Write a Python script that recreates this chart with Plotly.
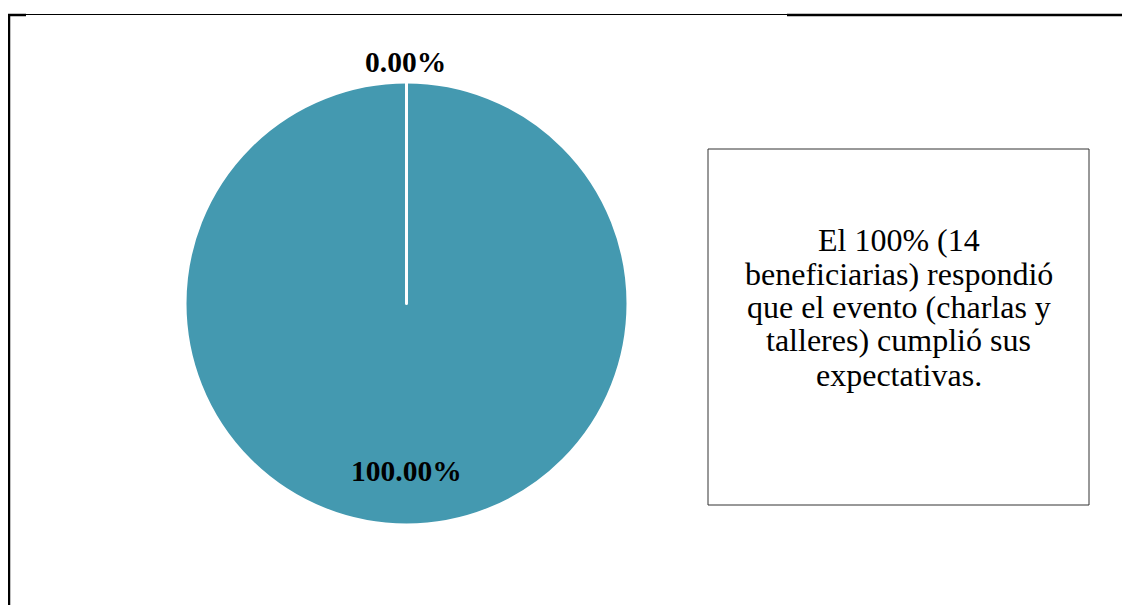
import plotly.graph_objects as go

# Data
labels = ["Sí", "No"]
values = [14, 0]
note_lines = [
    "El 100% (14",
    "beneficiarias) respondió",
    "que el evento (charlas y",
    "talleres) cumplió sus",
    "expectativas.",
]

W, H = 1130, 605
OFF = 8  # page body margin in the browser


def px(x):
    return (x - OFF) / W


def py(y):
    return 1 - (y - OFF) / H


teal = "#4499b0"
total = sum(values)
pcts = [v / total * 100 for v in values]

fig = go.Figure()
fig.add_trace(go.Pie(
    labels=labels,
    values=values,
    sort=False,
    direction="clockwise",
    rotation=0,
    marker=dict(colors=[teal, teal], line=dict(color="white", width=3)),
    textinfo="none",
    showlegend=False,
    hoverinfo="label+value+percent",
    domain=dict(x=[px(185), px(628)], y=[py(525), py(82)]),
))

# Percentage labels (computed from the data)
label_pos = [(406, 471), (405, 62)]
for p, (lx, ly) in zip(pcts, label_pos):
    fig.add_annotation(xref="paper", yref="paper", x=px(lx), y=py(ly),
                       text=f"<b>{p:.2f}%</b>", showarrow=False,
                       xanchor="center", yanchor="middle",
                       font=dict(family="Liberation Serif", size=29.5, color="black"))

# Text box
fig.add_shape(type="rect", xref="paper", yref="paper",
              x0=px(708), x1=px(1089), y0=py(505), y1=py(149),
              line=dict(color="#333333", width=1), fillcolor="white", layer="below")
line_y = [240, 273.5, 307, 340.5, 375]
for t, ly in zip(note_lines, line_y):
    fig.add_annotation(xref="paper", yref="paper", x=px(898.5), y=py(ly),
                       text=t, showarrow=False, align="center",
                       xanchor="center", yanchor="middle",
                       font=dict(family="Liberation Serif", size=32, color="black"))

# Frame lines
fig.add_shape(type="line", xref="paper", yref="paper", x0=px(8), x1=px(787), y0=py(14.5), y1=py(14.5),
              line=dict(color="black", width=1))
fig.add_shape(type="line", xref="paper", yref="paper", x0=px(787), x1=px(1140), y0=py(15), y1=py(15),
              line=dict(color="black", width=2.5))
fig.add_shape(type="line", xref="paper", yref="paper", x0=px(9), x1=px(9), y0=py(14), y1=py(620),
              line=dict(color="black", width=2.5))
fig.add_shape(type="line", xref="paper", yref="paper", x0=px(8), x1=px(26), y0=py(15), y1=py(15),
              line=dict(color="black", width=2.5))

fig.update_layout(
    width=W, height=H,
    margin=dict(l=0, r=0, t=0, b=0),
    paper_bgcolor="white", plot_bgcolor="white",
    font=dict(family="Liberation Serif", color="black"),
)

fig.write_html("out.html")
